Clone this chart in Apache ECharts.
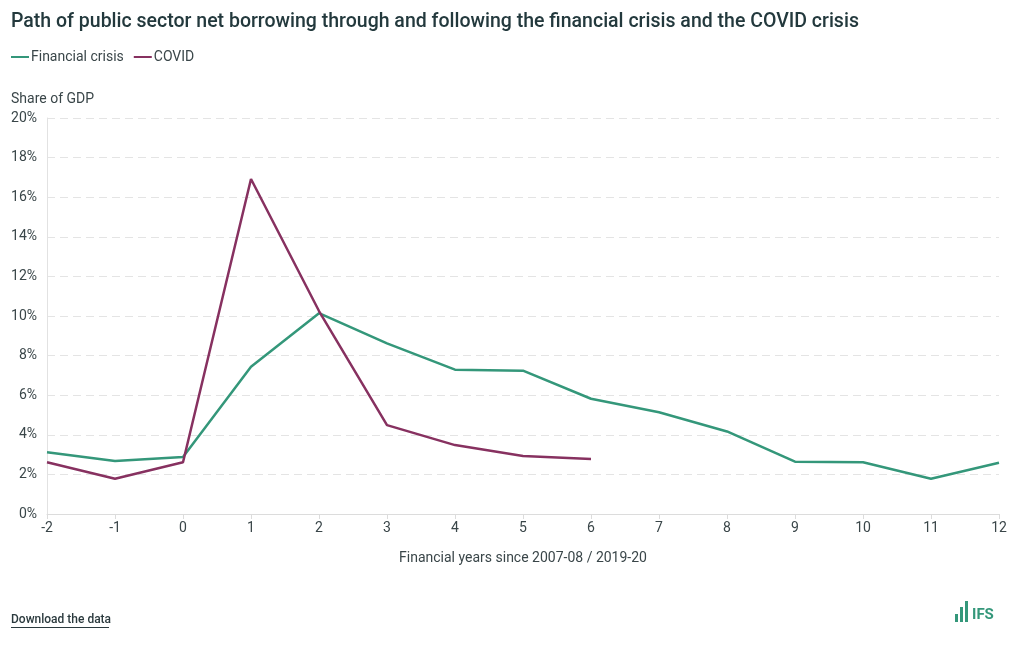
<!DOCTYPE html>
<html>
<head>
<meta charset="utf-8">
<script src="https://cdn.jsdelivr.net/npm/echarts@6/dist/echarts.min.js"></script>
<style>
html,body{margin:0;padding:0;background:#fff;}
#c{width:1020px;height:650px;}
</style>
</head>
<body>
<div id="c"></div>
<script>
const years = [-2, -1, 0, 1, 2, 3, 4, 5, 6, 7, 8, 9, 10, 11, 12];
const financialCrisis = [3.12, 2.68, 2.88, 7.44, 10.14, 8.62, 7.29, 7.24, 5.82, 5.14, 4.17, 2.64, 2.61, 1.78, 2.59];
const covid = [2.61, 1.78, 2.61, 16.92, 10.25, 4.49, 3.48, 2.93, 2.78];
const yTicks = [0, 2, 4, 6, 8, 10, 12, 14, 16, 18, 20];

const green = '#34977a';
const purple = '#873160';
const labelCol = '#3a4649';

const pairs = (vals) => vals.map((v, i) => [years[i], v]);

const chart = echarts.init(document.getElementById('c'));
chart.setOption({
  animation: false,
  textStyle: { fontFamily: 'Roboto' },
  title: {
    text: 'Path of public sector net borrowing through and following the financial crisis and the COVID crisis',
    left: 11, top: 12, padding: 0,
    textStyle: { fontFamily: 'Roboto', fontSize: 19.5, fontWeight: 500, color: '#23393d' }
  },
  legend: {
    left: 11, top: 50, padding: 0,
    itemWidth: 18, itemHeight: 2, itemGap: 10,
    icon: 'rect',
    textStyle: { fontFamily: 'Roboto', fontSize: 14, color: labelCol, padding: [0, 0, 0, -3] },
    data: ['Financial crisis', 'COVID']
  },
  grid: { left: 47, right: 21, top: 118, bottom: 136, containLabel: false },
  xAxis: {
    type: 'value', min: -2, max: 12, interval: 1,
    name: 'Financial years since 2007-08 / 2019-20',
    nameLocation: 'middle', nameGap: 37,
    nameTextStyle: { fontFamily: 'Roboto', fontSize: 14, color: labelCol },
    axisLine: { show: true, onZero: false, lineStyle: { color: '#dcdcdc' } },
    axisTick: { show: true, length: 5, lineStyle: { color: '#dcdcdc' } },
    axisLabel: { fontFamily: 'Roboto', fontSize: 14, color: labelCol, margin: 7 },
    splitLine: { show: false }
  },
  yAxis: {
    type: 'value', min: 0, max: 20, interval: 2,
    name: 'Share of GDP',
    nameLocation: 'end', nameGap: 12,
    nameTextStyle: { fontFamily: 'Roboto', fontSize: 14, color: labelCol, align: 'left', padding: [0, 0, 0, -36] },
    axisLine: { show: true, onZero: false, lineStyle: { color: '#e2e2e2' } },
    axisTick: { show: false },
    axisLabel: {
      fontFamily: 'Roboto', fontSize: 14, color: labelCol, margin: 10,
      formatter: (v) => (yTicks.indexOf(v) >= 0 ? v + '%' : '')
    },
    splitLine: { show: true, lineStyle: { color: '#e4e4e4', type: [8, 5] } }
  },
  series: [
    {
      name: 'Financial crisis', type: 'line', data: pairs(financialCrisis),
      symbol: 'none', lineStyle: { color: green, width: 2.5 }, itemStyle: { color: green }
    },
    {
      name: 'COVID', type: 'line', data: pairs(covid),
      symbol: 'none', lineStyle: { color: purple, width: 2.5 }, itemStyle: { color: purple }
    }
  ],
  graphic: [
    {
      type: 'text', left: 11, top: 614,
      style: { text: 'Download the data', fontFamily: 'Roboto', fontSize: 12, fontWeight: 500, fill: '#2b3a3e' }
    },
    {
      type: 'rect', left: 11, top: 627,
      shape: { width: 98, height: 1 }, style: { fill: '#2b3a3e' }
    },
    { type: 'rect', left: 955, top: 614, shape: { width: 3, height: 8 }, style: { fill: green } },
    { type: 'rect', left: 960, top: 607, shape: { width: 3, height: 15 }, style: { fill: green } },
    { type: 'rect', left: 965, top: 601, shape: { width: 3, height: 21 }, style: { fill: green } },
    {
      type: 'text', left: 972, top: 608,
      style: { text: 'IFS', fontFamily: 'Roboto', fontSize: 15, fontWeight: 'bold', fill: green }
    }
  ]
});
</script>
</body>
</html>
